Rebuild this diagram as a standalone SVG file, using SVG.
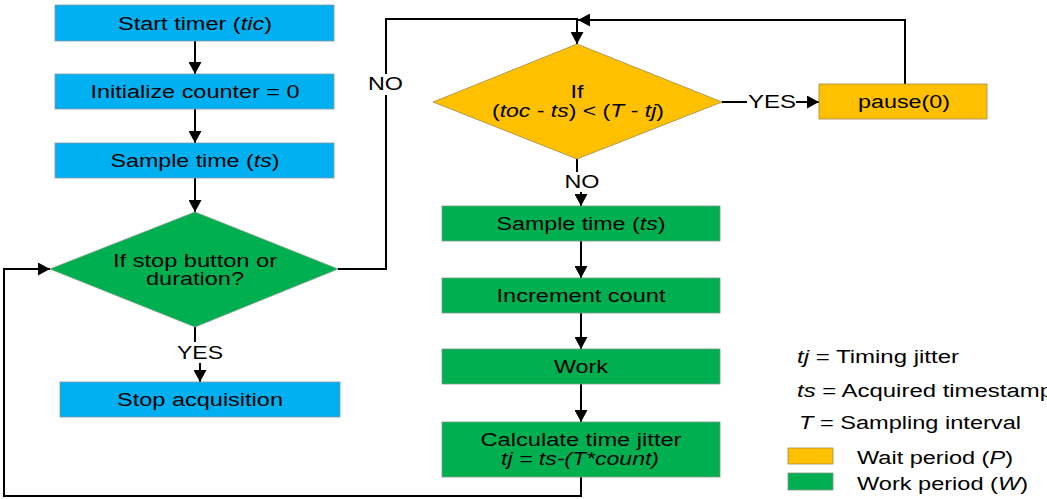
<svg xmlns="http://www.w3.org/2000/svg" width="1047" height="499" viewBox="0 0 1047 499">
<style>
.blue{fill:#00B0F0;stroke:#8a9aa6;stroke-width:0.8}
.green{fill:#00B050;stroke:#7f9a88;stroke-width:0.8}
.yellow{fill:#FFC000;stroke:#a08a50;stroke-width:0.8}
text{font-family:"Liberation Sans",Arial,sans-serif;font-size:18px;fill:#000}
.c{text-anchor:middle}
.i{font-style:italic}
.ln{fill:none;stroke:#000;stroke-width:2}
</style>
<defs>
<marker id="ah" markerUnits="userSpaceOnUse" markerWidth="12" markerHeight="13" refX="12" refY="6.5" orient="auto">
<path d="M0,0 L12,6.5 L0,13 z" fill="#000"/>
</marker>
</defs>
<g id="connectors">
<line class="ln" x1="195" y1="41" x2="195" y2="74" marker-end="url(#ah)"/>
<line class="ln" x1="195" y1="109" x2="195" y2="143" marker-end="url(#ah)"/>
<line class="ln" x1="195" y1="178" x2="195" y2="212" marker-end="url(#ah)"/>
<line class="ln" x1="195" y1="327" x2="195" y2="342"/>
<line class="ln" x1="200" y1="363" x2="200" y2="382" marker-end="url(#ah)"/>
<polyline class="ln" points="338,269 386,269 386,95"/>
<polyline class="ln" points="386,74 386,19 577,19 577,44" marker-end="url(#ah)"/>
<line class="ln" x1="722" y1="102" x2="747" y2="102"/>
<line class="ln" x1="796" y1="102" x2="819" y2="102" marker-end="url(#ah)"/>
<polyline class="ln" points="905,84 905,20 578,20" marker-end="url(#ah)"/>
<line class="ln" x1="577" y1="159" x2="577" y2="172"/>
<line class="ln" x1="581" y1="192" x2="581" y2="206" marker-end="url(#ah)"/>
<line class="ln" x1="581" y1="241" x2="581" y2="278" marker-end="url(#ah)"/>
<line class="ln" x1="581" y1="313" x2="581" y2="349" marker-end="url(#ah)"/>
<line class="ln" x1="581" y1="384" x2="581" y2="422" marker-end="url(#ah)"/>
<polyline class="ln" points="581,477 581,496 4,496 4,269 50,269" marker-end="url(#ah)"/>
<text class="c" x="385.5" y="89.5" textLength="35" lengthAdjust="spacingAndGlyphs">NO</text>
<text class="c" x="200" y="358.5" textLength="46" lengthAdjust="spacingAndGlyphs">YES</text>
<text class="c" x="772" y="108" textLength="48" lengthAdjust="spacingAndGlyphs">YES</text>
<text class="c" x="582" y="187.5" textLength="35" lengthAdjust="spacingAndGlyphs">NO</text>
</g>
<g id="start">
<rect class="blue" x="55" y="5" width="279" height="36"/>
<text class="c" x="195" y="29.5" textLength="154" lengthAdjust="spacingAndGlyphs">Start timer (<tspan class="i">tic</tspan>)</text>
</g>
<g id="init">
<rect class="blue" x="55" y="74" width="279" height="35"/>
<text class="c" x="195" y="98" textLength="209" lengthAdjust="spacingAndGlyphs">Initialize counter = 0</text>
</g>
<g id="sample1">
<rect class="blue" x="55" y="143" width="279" height="35"/>
<text class="c" x="195" y="167" textLength="169" lengthAdjust="spacingAndGlyphs">Sample time (<tspan class="i">ts</tspan>)</text>
</g>
<g id="stopcheck">
<polygon class="green" points="195,212 338,269 195,327 50,269"/>
<text class="c" x="195" y="266.5" textLength="164" lengthAdjust="spacingAndGlyphs">If stop button or</text>
<text class="c" x="195" y="284.5" textLength="98" lengthAdjust="spacingAndGlyphs">duration?</text>
</g>
<g id="stop">
<rect class="blue" x="60" y="382" width="280" height="35"/>
<text class="c" x="200" y="406" textLength="166" lengthAdjust="spacingAndGlyphs">Stop acquisition</text>
</g>
<g id="waitcheck">
<polygon class="yellow" points="577,44 722,102 577,159 433,102"/>
<text class="c" x="577" y="97.5" textLength="13" lengthAdjust="spacingAndGlyphs">If</text>
<text class="c" x="578" y="117" textLength="172" lengthAdjust="spacingAndGlyphs">(<tspan class="i">toc</tspan> - <tspan class="i">ts</tspan>) &lt; (<tspan class="i">T</tspan> - <tspan class="i">tj</tspan>)</text>
</g>
<g id="pause">
<rect class="yellow" x="819" y="84" width="168" height="35"/>
<text class="c" x="904" y="108" textLength="92" lengthAdjust="spacingAndGlyphs">pause(0)</text>
</g>
<g id="sample2">
<rect class="green" x="442" y="206" width="278" height="35"/>
<text class="c" x="581" y="230" textLength="169" lengthAdjust="spacingAndGlyphs">Sample time (<tspan class="i">ts</tspan>)</text>
</g>
<g id="increment">
<rect class="green" x="442" y="278" width="278" height="35"/>
<text class="c" x="581" y="302" textLength="169" lengthAdjust="spacingAndGlyphs">Increment count</text>
</g>
<g id="work">
<rect class="green" x="442" y="349" width="278" height="35"/>
<text class="c" x="581" y="373" textLength="54" lengthAdjust="spacingAndGlyphs">Work</text>
</g>
<g id="calc">
<rect class="green" x="442" y="422" width="278" height="55"/>
<text class="c" x="581" y="445.5" textLength="201" lengthAdjust="spacingAndGlyphs">Calculate time jitter</text>
<text class="c i" x="580" y="464.5" textLength="158" lengthAdjust="spacingAndGlyphs">tj = ts-(T*count)</text>
</g>
<g id="legend">
<text x="797" y="362.5" textLength="162" lengthAdjust="spacingAndGlyphs"><tspan class="i">tj</tspan> = Timing jitter</text>
<text x="797" y="396.5" textLength="256" lengthAdjust="spacingAndGlyphs"><tspan class="i">ts</tspan> = Acquired timestamp</text>
<text x="799" y="428.5" textLength="222" lengthAdjust="spacingAndGlyphs"><tspan class="i">T</tspan> = Sampling interval</text>
<rect class="yellow" x="788" y="448" width="45" height="16"/>
<text x="857" y="463.5" textLength="156" lengthAdjust="spacingAndGlyphs">Wait period (<tspan class="i">P</tspan>)</text>
<rect class="green" x="788" y="473" width="45" height="17"/>
<text x="857" y="489.5" textLength="171" lengthAdjust="spacingAndGlyphs">Work period (<tspan class="i">W</tspan>)</text>
</g>
</svg>
